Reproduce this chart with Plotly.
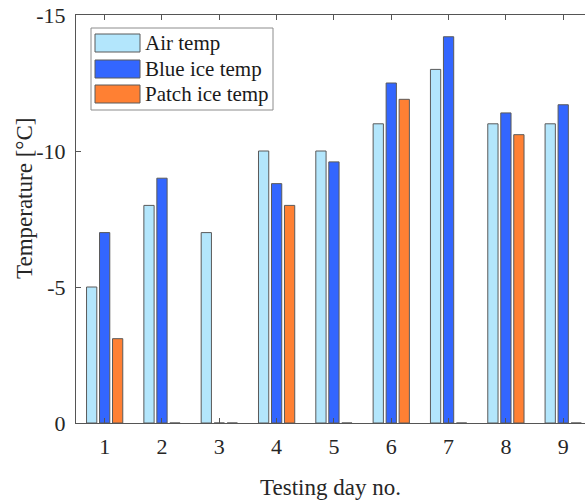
import plotly.graph_objects as go

days = [1, 2, 3, 4, 5, 6, 7, 8, 9]
air_temp = [-5, -8, -7, -10, -10, -11, -13, -11, -11]
blue_ice_temp = [-7, -9, 0, -8.8, -9.6, -12.5, -14.2, -11.4, -11.7]
patch_ice_temp = [-3.1, 0, 0, -8, 0, -11.9, 0, -10.6, 0]
series_names = ["Air temp", "Blue ice temp", "Patch ice temp"]
series_colors = ["#b3e6fc", "#3366ff", "#ff8033"]
y_ticks = [0, -5, -10, -15]
y_ticktext = ["0", "-5", "-10", "-15"]

font = "Times New Roman, Liberation Serif, serif"
edge = dict(color="#5a5a5a", width=1)

fig = go.Figure()
for name, vals, col in zip(series_names, [air_temp, blue_ice_temp, patch_ice_temp], series_colors):
    fig.add_bar(x=days, y=vals, name=name, marker=dict(color=col, line=edge), showlegend=False)

# pixel -> paper helpers for the legend box (plot area: x 76..585, y 15..423)
def px(x):
    return (x - 76) / 509.0

def py(y):
    return (423 - y) / 408.0

shapes = [dict(type="rect", xref="paper", yref="paper",
               x0=px(91), x1=px(273), y0=py(110), y1=py(28),
               line=dict(color="#8c8c8c", width=1), fillcolor="white", layer="above")]
annotations = []
row_centers = [43, 69, 94]
for name, col, rc in zip(series_names, series_colors, row_centers):
    shapes.append(dict(type="rect", xref="paper", yref="paper",
                       x0=px(95), x1=px(140), y0=py(rc + 9), y1=py(rc - 9),
                       line=dict(color="#5a5a5a", width=1), fillcolor=col, layer="above"))
    annotations.append(dict(text=name, xref="paper", yref="paper", x=px(143), y=py(rc),
                            xanchor="left", yanchor="middle", showarrow=False,
                            font=dict(family=font, size=21, color="#1a1a1a")))

annotations.append(dict(text="Temperature [°C]", xref="paper", yref="paper",
                        x=px(25), y=py(199), textangle=-90, xanchor="center", yanchor="middle",
                        showarrow=False, font=dict(family=font, size=23, color="#262626")))

fig.update_layout(
    width=585, height=502,
    margin=dict(l=76, r=0, t=15, b=79),
    paper_bgcolor="white", plot_bgcolor="white",
    barmode="group", bargap=0.32, bargroupgap=0.21,
    font=dict(family=font, size=22, color="#262626"),
    showlegend=False,
    shapes=shapes, annotations=annotations,
    xaxis=dict(range=[0.5, 9.38], tickvals=days, ticktext=[str(d) for d in days],
               tickfont=dict(family=font, size=22, color="#262626"),
               ticks="inside", ticklen=5, tickcolor="#555", ticklabelstandoff=4,
               showline=True, linecolor="#555", linewidth=1, mirror="ticks",
               showgrid=False, zeroline=False,
               title=dict(text="Testing day no.", standoff=20,
                          font=dict(family=font, size=23, color="#262626"))),
    yaxis=dict(range=[0, -15], tickvals=y_ticks, ticktext=y_ticktext,
               tickfont=dict(family=font, size=22, color="#262626"),
               ticks="inside", ticklen=5, tickcolor="#555", ticklabelstandoff=5,
               showline=True, linecolor="#555", linewidth=1,
               showgrid=False, zeroline=False),
)

fig.write_html("out.html")
